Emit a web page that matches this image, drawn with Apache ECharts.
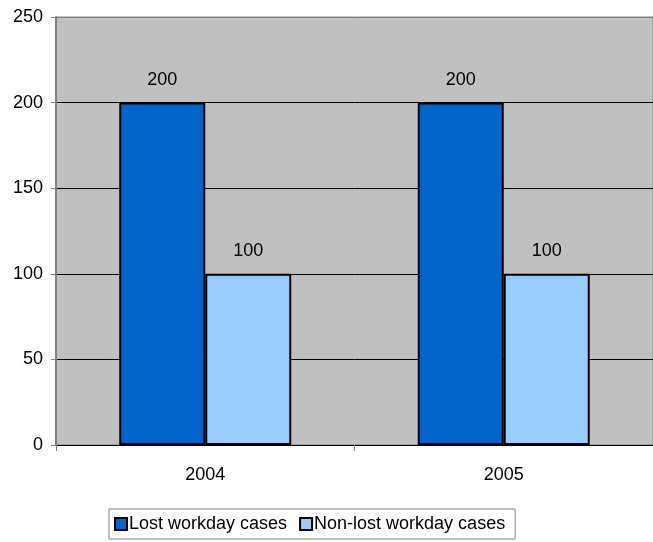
<!DOCTYPE html>
<html>
<head>
<meta charset="utf-8">
<script src="https://cdn.jsdelivr.net/npm/echarts@6/dist/echarts.min.js"></script>
<style>
html,body{margin:0;padding:0;background:#fff;}
#chart{width:653px;height:542px;}
</style>
</head>
<body>
<div id="chart"></div>
<script>
// Workday case counts per year
const years = ['2004', '2005'];
const lostWorkday = [200, 200];
const nonLostWorkday = [100, 100];
const seriesNames = ['Lost workday cases', 'Non-lost workday cases'];

const font = 'Liberation Sans, Arial, sans-serif';
const chart = echarts.init(document.getElementById('chart'));

const barLabel = {
  show: true,
  position: 'top',
  distance: 14,
  color: '#000',
  fontFamily: font,
  fontSize: 18
};

chart.setOption({
  animation: false,
  grid: {
    left: 56, top: 17, width: 600, height: 428,
    show: true,
    backgroundColor: '#c0c0c0',
    borderColor: '#808080',
    borderWidth: 1
  },
  legend: {
    left: 109,
    top: 509,
    padding: [6, 10, 6, 5],
    borderColor: '#808080',
    borderWidth: 1,
    itemWidth: 12,
    itemHeight: 12,
    itemGap: 12,
    icon: 'rect',
    textStyle: { fontFamily: font, fontSize: 18, color: '#000', padding: [0, 0, 0, -3] },
    data: seriesNames
  },
  xAxis: {
    type: 'category',
    data: years,
    axisLine: { lineStyle: { color: '#000', width: 1 } },
    axisTick: { show: true, length: 6, lineStyle: { color: '#808080' } },
    axisLabel: { color: '#000', fontFamily: font, fontSize: 18, margin: 21 }
  },
  yAxis: {
    type: 'value',
    min: 0, max: 250, interval: 50,
    axisLine: { show: true, lineStyle: { color: '#808080', width: 2 } },
    axisTick: { show: true, length: 5, lineStyle: { color: '#808080' } },
    axisLabel: { color: '#000', fontFamily: font, fontSize: 18, margin: 13 },
    splitLine: { show: true, lineStyle: { color: ['#000', '#000', '#000', '#000', '#000', '#808080'], width: 1 } }
  },
  series: [
    {
      name: seriesNames[0],
      type: 'bar',
      data: lostWorkday,
      barWidth: 86,
      barGap: '0%',
      itemStyle: { color: '#0066cc', borderColor: '#000', borderWidth: 2 },
      label: barLabel
    },
    {
      name: seriesNames[1],
      type: 'bar',
      data: nonLostWorkday,
      barWidth: 86,
      barGap: '0%',
      itemStyle: { color: '#99ccff', borderColor: '#000', borderWidth: 2 },
      label: barLabel
    }
  ]
});
</script>
</body>
</html>
